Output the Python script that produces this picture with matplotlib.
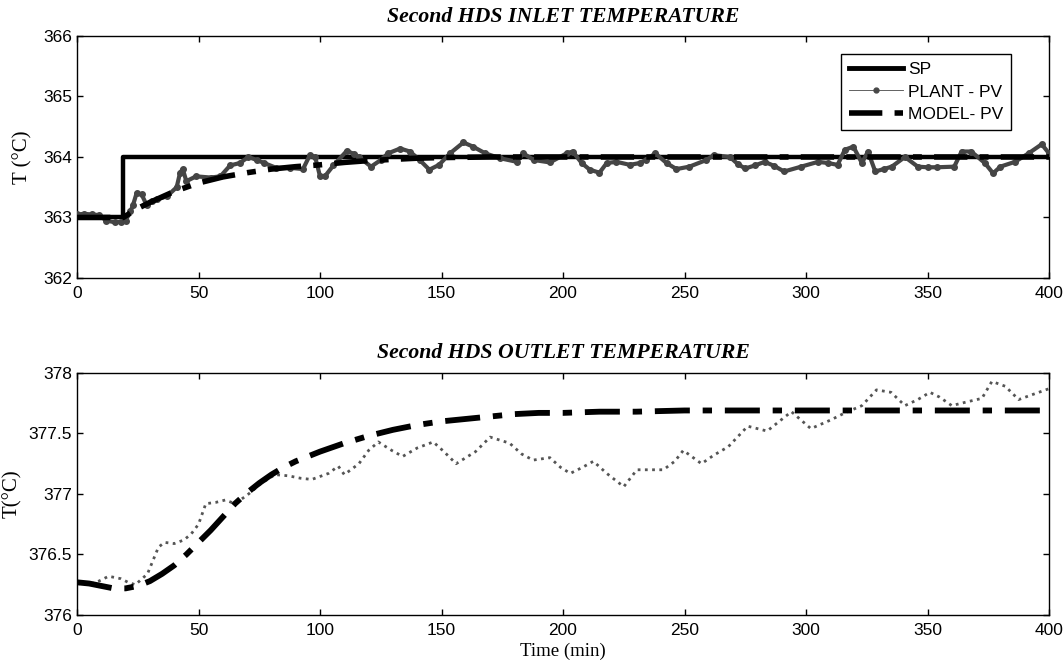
import matplotlib.pyplot as plt
from matplotlib.lines import Line2D

plt.rcParams['font.family'] = ['Liberation Sans', 'DejaVu Sans']

# ---- data ----
# Inlet: set point step
sp_t = [0, 19, 400]
sp_T = [363.0, 364.0, 364.0]

# Inlet: plant PV
in_plant_t = [0, 3, 6, 9, 12, 15.6, 18, 20, 22, 23, 24.5, 26.6, 28.7, 31, 33, 37, 41,
              42.4, 43.5, 45, 49, 55, 59, 63, 67, 70.5, 74, 77, 82, 87.7, 93, 95.8, 98,
              100, 102, 105.5, 111, 114, 116, 121, 125, 128, 133, 137, 141, 145, 149,
              153.5, 159, 163, 168, 174, 181, 183.6, 188, 194.6, 201.5, 204, 207.7, 211,
              215, 218, 222, 227.5, 231.6, 234, 238, 242.6, 246.7, 252, 259, 262, 268.7,
              272, 275, 279, 283, 287, 291, 298, 305, 309, 313, 316, 319.5, 323, 325.5,
              328.5, 332, 335.3, 340.7, 346, 350, 354, 361, 364, 368, 373.6, 377, 380,
              386, 391.6, 397, 400]
in_plant_T = [363.05, 363.06, 363.05, 363.04, 362.95, 362.92, 362.93, 362.95, 363.1, 363.2,
              363.4, 363.38, 363.2, 363.28, 363.3, 363.35, 363.5, 363.74, 363.8, 363.6,
              363.68, 363.66, 363.68, 363.86, 363.9, 364.0, 363.95, 363.9, 363.82, 363.82,
              363.8, 364.03, 364.0, 363.68, 363.68, 363.86, 364.1, 364.05, 364.0, 363.84,
              363.95, 364.06, 364.14, 364.09, 363.95, 363.79, 363.87, 364.06, 364.24,
              364.17, 364.06, 363.98, 363.92, 364.06, 363.95, 363.91, 364.06, 364.09,
              363.9, 363.79, 363.74, 363.9, 363.92, 363.87, 363.9, 363.95, 364.06, 363.9,
              363.8, 363.84, 363.95, 364.03, 364.0, 363.88, 363.81, 363.86, 363.92, 363.85,
              363.76, 363.84, 363.92, 363.9, 363.87, 364.12, 364.17, 363.9, 364.09, 363.76,
              363.8, 363.84, 364.0, 363.84, 363.83, 363.83, 363.84, 364.09, 364.09, 363.9,
              363.73, 363.84, 363.92, 364.06, 364.21, 364.06]

# Inlet: model PV
in_model_t = [0, 10, 19, 25, 30, 40, 50, 60, 70, 80, 90, 100, 110, 120, 130, 140, 150,
              170, 200, 250, 300, 350, 400]
in_model_T = [363.0, 363.0, 363.0, 363.15, 363.25, 363.43, 363.57, 363.67, 363.74, 363.8,
              363.84, 363.87, 363.91, 363.94, 363.96, 363.98, 363.99, 364.0, 364.0, 364.0,
              364.0, 364.0, 364.0]

# Outlet: plant PV
out_plant_t = [0, 4.7, 9, 13, 18, 21, 24, 29, 33.5, 36, 40, 44, 47, 50, 53, 57, 61, 65, 70,
               76, 81.5, 87, 92, 96.6, 103.5, 107.5, 110, 116, 120, 124, 129.5, 134, 140,
               146.6, 151, 156, 164, 170, 178, 183, 187.7, 194.6, 199, 203, 208, 212.5, 218,
               225, 230.4, 236, 241.3, 246, 249.5, 257, 262, 268, 276, 284, 289, 294, 302,
               310, 316, 323, 329, 335, 340.7, 346, 351, 355, 360, 366, 372.4, 376.5, 382,
               387.5, 393, 400]
out_plant_T = [376.26, 376.25, 376.28, 376.32, 376.3, 376.27, 376.25, 376.34, 376.56, 376.6,
               376.59, 376.62, 376.67, 376.75, 376.92, 376.93, 376.95, 376.92, 376.99,
               377.09, 377.16, 377.15, 377.13, 377.12, 377.17, 377.23, 377.16, 377.25,
               377.36, 377.43, 377.36, 377.31, 377.38, 377.43, 377.35, 377.25, 377.35,
               377.47, 377.42, 377.33, 377.28, 377.3, 377.22, 377.17, 377.22, 377.27,
               377.17, 377.06, 377.2, 377.2, 377.2, 377.27, 377.36, 377.25, 377.32, 377.39,
               377.56, 377.52, 377.6, 377.68, 377.54, 377.61, 377.67, 377.73, 377.86,
               377.84, 377.73, 377.78, 377.84, 377.8, 377.73, 377.76, 377.79, 377.93,
               377.89, 377.78, 377.82, 377.87]

# Outlet: model PV
out_model_t = [0, 5, 10, 15, 20, 25, 30, 35, 40, 45, 50, 55, 60, 65, 70, 75, 80, 85, 90, 95,
               100, 110, 120, 130, 140, 150, 160, 170, 180, 190, 200, 215, 230, 250, 270,
               300, 350, 400]
out_model_T = [376.27, 376.26, 376.24, 376.22, 376.22, 376.24, 376.28, 376.34, 376.41,
               376.5, 376.6, 376.7, 376.81, 376.92, 377.01, 377.09, 377.16, 377.22, 377.27,
               377.31, 377.35, 377.42, 377.48, 377.53, 377.57, 377.6, 377.62, 377.64,
               377.66, 377.67, 377.67, 377.68, 377.68, 377.69, 377.69, 377.69, 377.69,
               377.69]

x_ticks = [0, 50, 100, 150, 200, 250, 300, 350, 400]
in_yticks = [362, 363, 364, 365, 366]
out_yticks = [376, 376.5, 377, 377.5, 378]
out_yticklabels = ['376', '376.5', '377', '377.5', '378']

dashdot = (0, (6, 2.2, 1.6, 2.2))
serif = 'Liberation Serif'

fig = plt.figure(figsize=(10.64, 6.66), dpi=100)
ax1 = fig.add_axes([0.0724, 0.5826, 0.9135, 0.3634])
ax2 = fig.add_axes([0.0724, 0.0766, 0.9135, 0.3634])

# ---- top: inlet ----
ax1.plot(sp_t, sp_T, color='black', lw=3.2, drawstyle='steps-post', zorder=2)
ax1.plot(in_plant_t, in_plant_T, color='#454545', lw=3, marker='o', ms=4, zorder=3)
ax1.plot(in_model_t, in_model_T, color='black', lw=4, linestyle=dashdot, zorder=4)
ax1.set_xlim(0, 400)
ax1.set_ylim(362, 366)
ax1.set_yticks(in_yticks)
ax1.set_xticks(x_ticks)
ax1.set_title('Second HDS INLET TEMPERATURE', family=serif, fontweight='bold',
              fontstyle='italic', fontsize=15.7, pad=10)
ax1.set_ylabel('T (°C)', family=serif, fontsize=15)
ax1.yaxis.set_label_coords(-0.046, 0.5)

handles = [Line2D([], [], color='black', lw=3.5),
           Line2D([], [], color='#474747', lw=0.6, marker='o', ms=3.5),
           Line2D([], [], color='black', lw=4, linestyle=dashdot)]
ax1.legend(handles, ['SP', 'PLANT - PV', 'MODEL- PV'], loc='upper right',
           bbox_to_anchor=(0.961, 0.925), fontsize=12.5, frameon=True, fancybox=False,
           edgecolor='black', framealpha=1, handlelength=3.1, handletextpad=0.3,
           borderpad=0.45, labelspacing=0.42, borderaxespad=0)

# ---- bottom: outlet ----
ax2.plot(out_plant_t, out_plant_T, color='#555555', lw=2, linestyle=(0, (1, 1.6)), zorder=3)
ax2.plot(out_model_t, out_model_T, color='black', lw=4.2, linestyle=dashdot, zorder=4)
ax2.set_xlim(0, 400)
ax2.set_ylim(376, 378)
ax2.set_yticks(out_yticks)
ax2.set_yticklabels(out_yticklabels)
ax2.set_xticks(x_ticks)
ax2.set_title('Second HDS OUTLET TEMPERATURE', family=serif, fontweight='bold',
              fontstyle='italic', fontsize=15.7, pad=11)
ax2.set_ylabel('T(°C)', family=serif, fontsize=15)
ax2.yaxis.set_label_coords(-0.057, 0.5)
ax2.set_xlabel('Time (min)', family=serif, fontsize=13.5, labelpad=3)

for ax in (ax1, ax2):
    ax.tick_params(direction='in', length=4, width=1, top=True, right=True,
                   labelsize=12.5, colors='black')
    ax.tick_params(axis='x', pad=6)
    for s in ax.spines.values():
        s.set_linewidth(1)

fig.savefig('out.png', dpi=100)
